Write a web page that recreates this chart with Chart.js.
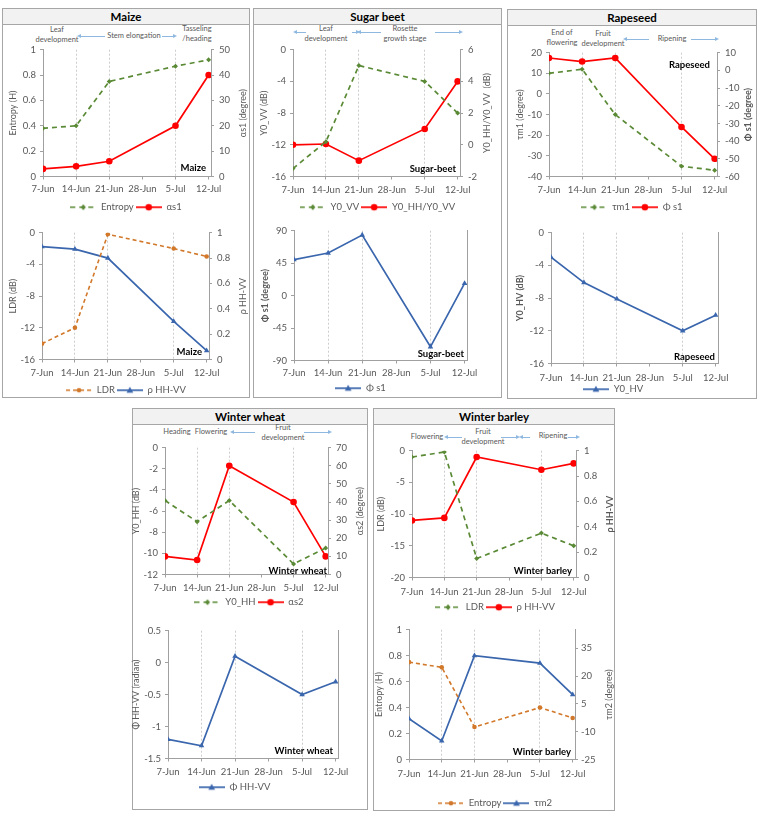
<!DOCTYPE html>
<html><head><meta charset="utf-8">
<script src="https://cdn.jsdelivr.net/npm/chart.js@4.4.1/dist/chart.umd.min.js"></script>
<style>
body{margin:0;background:#fff;font-family:Lato,'Liberation Sans',sans-serif;}
#fig{position:relative;width:762px;height:820px;overflow:hidden;background:#fff;}
.panel{position:absolute;border:1px solid #a6a6a6;box-sizing:border-box;}
.ttl{position:absolute;left:0;right:0;top:0;height:15px;background:#f2f2f2;border-bottom:1px solid #a6a6a6;font-weight:bold;font-size:11.5px;line-height:15px;text-align:center;color:#000;}
.ann{position:absolute;font-size:7.5px;color:#595959;line-height:10px;text-align:center;white-space:nowrap;transform:translateX(-50%);}
.arr{position:absolute;height:1px;background:#8fb8e0;}
.hd{position:absolute;top:-2px;width:0;height:0;border-top:2.5px solid transparent;border-bottom:2.5px solid transparent;}
canvas{position:absolute;}
</style></head>
<body><div id="fig"></div>
<script>
// ---------- data ----------
const dates = ['7-Jun','14-Jun','21-Jun','5-Jul','12-Jul'];
const dayOfSeason = [0, 7, 14, 28, 35];            // days after 7-Jun
const tickLabels = ['7-Jun','14-Jun','21-Jun','28-Jun','5-Jul','12-Jul'];
const tickDays = [0, 7, 14, 21, 28, 35];
const dropLineDays = [7, 14, 28];

const maizeEntropy = [0.38, 0.40, 0.75, 0.87, 0.92];
const maizeAlphaS1 = [3, 4, 6, 20, 40];
const maizeLDR = [-14, -12, -0.2, -2, -3];
const maizeRhoHHVV = [0.89, 0.87, 0.80, 0.30, 0.07];

const sugarY0VV = [-15, -11.6, -2, -4, -8];
const sugarY0HHVV = [0, 0.05, -1, 1, 4];
const sugarPhiS1 = [50, 59, 84, -71, 17];

const rapeTauM1 = [10, 12, -10, -35, -37];
const rapePhiS1 = [7, 5, 7, -32, -50];
const rapeY0HV = [-3, -6.1, -8.1, -12, -10.1];

const wheatY0HH = [-5, -7, -5, -11, -9.5];
const wheatAlphaS2 = [10, 8, 60, 40, 10];
const wheatPhiHHVV = [-1.2, -1.3, 0.1, -0.5, -0.3];

const barleyLDR = [-1, -0.2, -17, -13, -15];
const barleyRhoHHVV = [0.45, 0.47, 0.95, 0.85, 0.90];
const barleyEntropy = [0.75, 0.71, 0.25, 0.40, 0.32];
const barleyTauM2 = [-3, -15, 31, 27, 10];
const barleyTauM2Ticks = [-25, -10, 5, 20, 35];

// ---------- styles ----------
const GREEN = {color:'#5a8a35', width:1.7, dash:[5,4], marker:'rectRot', r:2.5};
const RED = {color:'#ff0000', width:1.7, dash:[], marker:'circle', r:3.3};
const ORANGE = {color:'#d2782a', width:1.6, dash:[4,3], marker:'circle', r:2.3};
const BLUE = {color:'#3a66ad', width:1.7, dash:[], marker:'triangle', r:3.2};
const TXT = '#595959', AX = '#a0a0a0';
Chart.defaults.font.family = 'Lato';

const fig = document.getElementById('fig');

const panels = [
  {name:'Maize', l:2, t:8, r:250, b:398},
  {name:'Sugar beet', l:253, t:8, r:502, b:398},
  {name:'Rapeseed', l:507, t:9, r:757, b:399},
  {name:'Winter wheat', l:132, t:408, r:368, b:810},
  {name:'Winter barley', l:373, t:408, r:615, b:811}
];
panels.forEach(p => {
  const d = document.createElement('div'); d.className = 'panel';
  Object.assign(d.style, {left:p.l+'px', top:p.t+'px', width:(p.r-p.l)+'px', height:(p.b-p.t)+'px'});
  const t = document.createElement('div'); t.className = 'ttl'; t.textContent = p.name;
  d.appendChild(t); fig.appendChild(d);
});

function ann(text, cx, cy) {
  const lines = text.split('\n');
  const d = document.createElement('div'); d.className = 'ann';
  d.innerHTML = lines.join('<br>');
  d.style.left = cx + 'px'; d.style.top = (cy - 5) + 'px';
  fig.appendChild(d);
}
function arrow(x1, x2, y, heads) {
  const d = document.createElement('div'); d.className = 'arr';
  Object.assign(d.style, {left:x1+'px', top:y+'px', width:(x2-x1)+'px'});
  if (heads.includes('l')) { const h=document.createElement('div'); h.className='hd'; h.style.left='-3px'; h.style.borderRight='4px solid #8fb8e0'; d.appendChild(h); }
  if (heads.includes('r')) { const h=document.createElement('div'); h.className='hd'; h.style.right='-3px'; h.style.borderLeft='4px solid #8fb8e0'; d.appendChild(h); }
  fig.appendChild(d);
}
// stage annotations
ann('Leaf\ndevelopment', 57, 30); arrow(80, 105, 36, 'l'); ann('Stem elongation', 134, 36); arrow(162, 174, 36, 'r'); ann('Tasseling\n/heading', 197, 29);
arrow(296, 306, 32, 'l'); ann('Leaf\ndevelopment', 326, 29); arrow(352, 357, 32, 'r'); arrow(360, 381, 32, 'l'); ann('Rosette\ngrowth stage', 405, 29); arrow(435, 460, 32, 'r');
ann('End of\nflowering', 562, 33); ann('Fruit\ndevelopment', 603, 34); arrow(626, 649, 39, 'l'); ann('Ripening', 672, 39); arrow(691, 716, 39, 'r');
ann('Heading', 177, 432); ann('Flowering', 211, 432); arrow(233, 255, 432, 'l'); ann('Fruit\ndevelopment', 283, 428); arrow(304, 329, 432, 'r');
ann('Flowering', 427, 437); arrow(447, 462, 437, 'l'); ann('Fruit\ndevelopment', 483, 432); arrow(501, 517, 437, 'r'); arrow(522, 530, 437, 'l'); ann('Ripening', 553, 436); arrow(568, 577, 437, 'r');

// ---------- chart helpers ----------
function drawMarker(g, m, x, y, r) {
  g.beginPath();
  if (m === 'circle') g.arc(x, y, r, 0, Math.PI*2);
  else if (m === 'triangle') { g.moveTo(x, y-r*1.1); g.lineTo(x+r*1.05, y+r*0.75); g.lineTo(x-r*1.05, y+r*0.75); g.closePath(); }
  else { g.moveTo(x, y-r*1.2); g.lineTo(x+r, y); g.lineTo(x, y+r*1.2); g.lineTo(x-r, y); g.closePath(); }
  g.fill();
}
function icon(st) {
  const c = document.createElement('canvas'); c.width = 26; c.height = 10;
  const g = c.getContext('2d');
  g.strokeStyle = st.color; g.lineWidth = st.width; g.setLineDash(st.dash);
  g.beginPath(); g.moveTo(0, 5); g.lineTo(26, 5); g.stroke(); g.setLineDash([]);
  g.fillStyle = st.color; drawMarker(g, st.marker, 13, 5, st.r);
  return c;
}
const cornerLabel = {
  id: 'cornerLabel',
  afterDatasetsDraw(chart, args, o) {
    if (!o || !o.text) return;
    const {ctx, chartArea: a} = chart;
    ctx.save(); ctx.font = 'bold 9.5px Lato'; ctx.fillStyle = '#000'; ctx.textAlign = 'right'; ctx.textBaseline = 'middle';
    ctx.fillText(o.text, a.right - o.dx, o.top ? a.top + o.dy : a.bottom - o.dy);
    ctx.restore();
  }
};
// right-hand axis titles read bottom-to-top, as in the spreadsheet original
const rightTitle = {
  id: 'rightTitle',
  afterDraw(chart, args, o) {
    if (!o || !o.text) return;
    const {ctx, chartArea: a} = chart;
    ctx.save(); ctx.font = (o.bold ? 'bold ' : '') + '9px Lato'; ctx.fillStyle = TXT; ctx.textAlign = 'center'; ctx.textBaseline = 'middle';
    ctx.translate(chart.width - o.off, (a.top + a.bottom) / 2); ctx.rotate(-Math.PI / 2);
    ctx.fillText(o.text, 0, 0);
    ctx.restore();
  }
};
Chart.register(cornerLabel, rightTitle);

const fmt = v => String(Math.round(v * 1000) / 1000);

function yAxis(c, pos, width) {
  const ax = {
    type: 'linear', position: pos, min: c.min, max: c.max,
    ticks: {stepSize: c.step, padding: c.tpad ?? 4, color: TXT, font: {size: 9.5}, callback: fmt},
    grid: {drawOnChartArea: false, tickLength: 3, tickColor: AX},
    border: {color: AX},
    title: {display: pos === 'left', text: c.title, color: TXT, font: {size: 9, weight: c.bold ? 'bold' : 'normal'}, padding: {top: c.tp, bottom: 0}},
    afterFit: s => { s.width = width; }
  };
  if (c.ticksList) ax.afterBuildTicks = s => { s.ticks = c.ticksList.map(v => ({value: v})); };
  return ax;
}

function make(p) {
  const cv = document.createElement('canvas');
  cv.width = p.box[2]; cv.height = p.box[3];
  cv.style.left = p.box[0] + 'px'; cv.style.top = p.box[1] + 'px';
  fig.appendChild(cv);
  const left = p.box[0], top = p.box[1], right = p.box[0] + p.box[2];
  const scales = {
    x: {
      type: 'linear', min: 0, max: 35.5,
      afterBuildTicks: s => { s.ticks = tickDays.map(v => ({value: v})); },
      afterFit: s => { s.height = p.hx; },
      ticks: {callback: v => tickLabels[tickDays.indexOf(v)], color: TXT, font: {size: 9.5}, padding: p.tp, maxRotation: 0, autoSkip: false},
      grid: {color: c => dropLineDays.includes(c.tick && c.tick.value) ? '#cdcdcd' : 'rgba(0,0,0,0)', tickColor: AX, tickLength: 3, lineWidth: 1},
      border: {color: AX, dash: [2, 2]}
    },
    y: yAxis(p.yl, 'left', p.plot.L - left)
  };
  if (p.yr) scales.y2 = yAxis(p.yr, 'right', right - p.plot.R);
  else scales.y2 = {type: 'linear', position: 'right', display: true, ticks: {display: false}, grid: {drawOnChartArea: false, drawTicks: false}, border: {color: AX}, afterFit: s => { s.width = 0; }};
  const datasets = p.sets.map(s => ({
    label: s.label,
    data: dayOfSeason.map((d, i) => ({x: d, y: s.data[i]})),
    yAxisID: s.axis,
    borderColor: s.st.color, backgroundColor: s.st.color, borderWidth: s.st.width, borderDash: s.st.dash,
    pointStyle: s.st.marker, pointRadius: s.st.r, pointBackgroundColor: s.st.color, pointBorderColor: s.st.color, pointBorderWidth: 0,
    tension: 0
  }));
  const icons = p.sets.map(s => icon(s.st));
  new Chart(cv, {
    type: 'line',
    data: {datasets},
    options: {
      responsive: false, animation: false, devicePixelRatio: 1,
      layout: {padding: {top: p.plot.T - top, left: 0, bottom: 0, right: p.yr ? 0 : right - p.plot.R}},
      scales,
      plugins: {
        tooltip: {enabled: false},
        legend: {
          position: 'bottom',
          labels: {
            usePointStyle: true, pointStyleWidth: 26, boxHeight: 10, padding: 2, color: TXT, font: {size: 9.5},
            generateLabels: ch => ch.data.datasets.map((ds, i) => ({text: ds.label, pointStyle: icons[i], fillStyle: ds.borderColor, strokeStyle: ds.borderColor, lineWidth: 0, hidden: false, datasetIndex: i, fontColor: TXT}))
          }
        },
        cornerLabel: p.corner,
        rightTitle: p.yr ? {text: p.yr.title, off: 6 + p.yr.tp, bold: p.yr.bold} : {}
      }
    }
  });
}

// ---------- charts ----------
// Maize
make({box:[3,39,246,183], plot:{L:43,R:211,T:47,B:176}, hx:24, tp:4,
  yl:{min:0,max:1,step:0.2,title:'Entropy (H)',tp:5}, yr:{min:0,max:50,step:10,title:'αs1 (degree)',tp:0,tpad:5},
  sets:[{label:'Entropy',data:maizeEntropy,axis:'y',st:GREEN},{label:'αs1',data:maizeAlphaS1,axis:'y2',st:RED}],
  corner:{text:'Maize',dx:5,dy:9}});
make({box:[3,222,246,183], plot:{L:42,R:209,T:230,B:359}, hx:24, tp:5,
  yl:{min:-16,max:0,step:4,title:'LDR (dB)',tp:5}, yr:{min:0,max:1,step:0.2,title:'ρ HH-VV',tp:0,tpad:5},
  sets:[{label:'LDR',data:maizeLDR,axis:'y',st:ORANGE},{label:'ρ HH-VV',data:maizeRhoHHVV,axis:'y2',st:BLUE}],
  corner:{text:'Maize',dx:7,dy:8}});
// Sugar beet
make({box:[254,39,247,183], plot:{L:293,R:460,T:47,B:176}, hx:24, tp:5,
  yl:{min:-16,max:0,step:4,title:'Y0_VV (dB)',tp:5}, yr:{min:-2,max:6,step:2,title:'Y0_HH/Y0_VV  (dB)',tp:8,tpad:5},
  sets:[{label:'Y0_VV',data:sugarY0VV,axis:'y',st:GREEN},{label:'Y0_HH/Y0_VV',data:sugarY0HHVV,axis:'y2',st:RED}],
  corner:{text:'Sugar-beet',dx:4,dy:8}});
make({box:[254,221,247,182], plot:{L:294,R:467,T:229,B:360}, hx:21, tp:4,
  yl:{min:-90,max:90,step:45,title:'Φ s1 (degree)',tp:6,bold:true}, yr:null,
  sets:[{label:'Φ s1',data:sugarPhiS1,axis:'y',st:BLUE}],
  corner:{text:'Sugar-beet',dx:3,dy:7}});
// Rapeseed
make({box:[508,42,248,180], plot:{L:549,R:717,T:50,B:176}, hx:24, tp:5,
  yl:{min:-40,max:20,step:10,title:'τm1 (degree)',tp:7}, yr:{min:-60,max:10,step:10,title:'Φ s1 (degree)',tp:2,tpad:5,bold:true},
  sets:[{label:'τm1',data:rapeTauM1,axis:'y',st:GREEN},{label:'Φ s1',data:rapePhiS1,axis:'y2',st:RED}],
  corner:{text:'Rapeseed',dx:7,dy:12,top:true}});
make({box:[508,223,248,181], plot:{L:551,R:718,T:231,B:363}, hx:19, tp:6,
  yl:{min:-16,max:0,step:4,title:'Y0_HV (dB)',tp:7,bold:true}, yr:null,
  sets:[{label:'Y0_HV',data:rapeY0HV,axis:'y',st:BLUE}],
  corner:{text:'Rapeseed',dx:3,dy:7}});
// Winter wheat
make({box:[131,437,236,180], plot:{L:165,R:328,T:445,B:574}, hx:21, tp:5,
  yl:{min:-12,max:0,step:2,title:'Y0_HH (dB)',tp:0}, yr:{min:0,max:70,step:10,title:'αs2 (degree)',tp:1,tpad:5},
  sets:[{label:'Y0_HH',data:wheatY0HH,axis:'y',st:GREEN},{label:'αs2',data:wheatAlphaS2,axis:'y2',st:RED}],
  corner:{text:'Winter wheat',dx:1,dy:4}});
make({box:[131,621,236,181], plot:{L:168,R:338,T:629,B:758}, hx:22, tp:5,
  yl:{min:-1.5,max:0.5,step:0.5,title:'Φ HH-VV (radian)',tp:0}, yr:null,
  sets:[{label:'Φ HH-VV',data:wheatPhiHHVV,axis:'y',st:BLUE}],
  corner:{text:'Winter wheat',dx:5,dy:8}});
// Winter barley
make({box:[374,440,242,182], plot:{L:412,R:576,T:448,B:577}, hx:23, tp:6,
  yl:{min:-20,max:0,step:5,title:'LDR (dB)',tp:2}, yr:{min:0,max:1,step:0.2,title:'ρ HH-VV',tp:0,tpad:5,bold:true},
  sets:[{label:'LDR',data:barleyLDR,axis:'y',st:GREEN},{label:'ρ HH-VV',data:barleyRhoHHVV,axis:'y2',st:RED}],
  corner:{text:'Winter barley',dx:4,dy:7}});
make({box:[374,620,242,198], plot:{L:409,R:575,T:628,B:759}, hx:37, tp:6,
  yl:{min:0,max:1,step:0.2,title:'Entropy (H)',tp:0}, yr:{min:-25,max:45,step:15,title:'τm2 (degree)',tp:1,tpad:3,ticksList:barleyTauM2Ticks},
  sets:[{label:'Entropy',data:barleyEntropy,axis:'y',st:ORANGE},{label:'τm2',data:barleyTauM2,axis:'y2',st:BLUE}],
  corner:{text:'Winter barley',dx:4,dy:8}});
</script>
</body></html>
